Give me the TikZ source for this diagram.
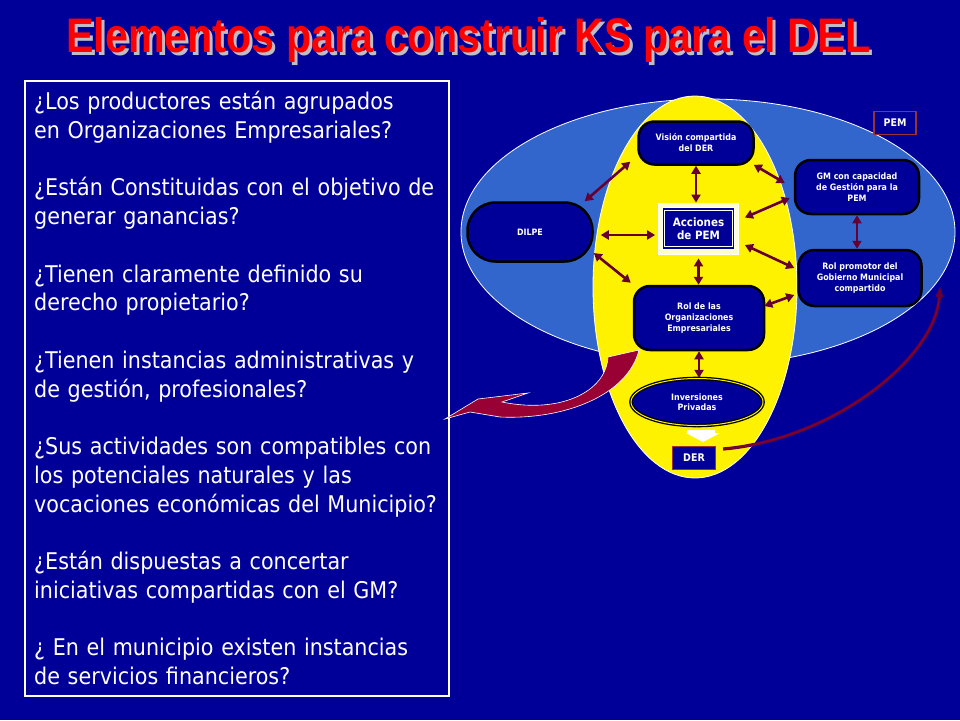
\documentclass[tikz,border=0pt]{standalone}
\usepackage{fontspec}
\setmainfont{DejaVu Sans Condensed}
\newfontfamily\titlefont{Liberation Sans}
\usepackage{tikz}
\usetikzlibrary{arrows.meta}
\usetikzlibrary{positioning}
\usetikzlibrary{shapes.geometric}

\definecolor{navy}{HTML}{000099}
\definecolor{skyblue}{HTML}{3366CC}
\definecolor{wine}{HTML}{660033}
\definecolor{crimson}{HTML}{990033}
\definecolor{brick}{HTML}{993333}
\definecolor{cream}{HTML}{FFFFCC}
\definecolor{shade}{HTML}{BDBDC8}

\newcommand{\headline}{Elementos para construir KS para el DEL}

\tikzset{
	box/.style={rectangle, rounded corners=16pt, fill=navy, draw=black, line width=2.5pt,
		text=white, align=center, inner sep=2pt, font=\bfseries\fontsize{8.8}{11}\selectfont},
	link/.style={wine, line width=2.6pt, {Triangle[length=8pt,width=9pt]}-{Triangle[length=8pt,width=9pt]}},
	tag/.style={rectangle, fill=navy, draw=brick, line width=1.2pt, text=white,
		font=\bfseries\fontsize{10.5}{12}\selectfont},
	frame/.style={rectangle, fill=cream, draw=white, line width=0.8pt, minimum width=80pt, minimum height=51pt},
	acc/.style={rectangle, fill=navy, draw=white, line width=0.9pt, double=navy, double distance=1.6pt,
		minimum width=70pt, minimum height=39pt, text=white, align=center,
		font=\bfseries\fontsize{11.5}{13}\selectfont},
	inv/.style={ellipse, fill=navy, draw=black, line width=1.3pt, double=yellow, double distance=1pt,
		minimum width=132pt, minimum height=47pt, inner sep=0pt, text=white, align=center,
		font=\bfseries\fontsize{8.8}{10.5}\selectfont},
}

\begin{document}
\begin{tikzpicture}[x=1pt,y=-1pt]
	\fill[navy] (0,0) rectangle (960,720);
	\useasboundingbox (0,0) rectangle (960,720);
	
	% title
	\node[anchor=base west, inner sep=0pt, font=\titlefont\bfseries\fontsize{48.5}{50}\selectfont] (title) at (66,52)
		{\scalebox{0.85}[1]{\rlap{\hspace{3.5pt}\raisebox{-3pt}{\textcolor{shade}{\headline}}}\textcolor{red}{\headline}}};
	
	% preguntas
	\draw[white, line width=1.2pt] (25,81) rectangle (449,696);
	\node[anchor=north west, inner sep=0pt, text width=440pt, align=left, text=white,
		font=\fontsize{23}{28.75}\selectfont] (ask) at (34,91) {%
		¿Los productores están agrupados\\
		en Organizaciones Empresariales?\\[28.75pt]
		¿Están Constituidas con el objetivo de\\
		generar ganancias?\\[28.75pt]
		¿Tienen claramente definido su\\
		derecho propietario?\\[28.75pt]
		¿Tienen instancias administrativas y\\
		de gestión, profesionales?\\[28.75pt]
		¿Sus actividades son compatibles con\\
		los potenciales naturales y las\\
		vocaciones económicas del Municipio?\\[28.75pt]
		¿Están dispuestas a concertar\\
		iniciativas compartidas con el GM?\\[28.75pt]
		¿ En el municipio existen instancias\\
		de servicios financieros?};
	
	% PEM y DER
	\fill[skyblue, draw=white, line width=0.8pt] (708,232) ellipse [x radius=247, y radius=133];
	\fill[yellow, draw=white, line width=0.8pt] (695,287) ellipse [x radius=102, y radius=191];
	
	\node[box, minimum width=115pt, minimum height=43pt] (vis) at (696,143) {Visión compartida\\del DER};
	\node[box, minimum width=124pt, minimum height=54pt] (gm) at (857,187) {GM con capacidad\\de Gestión para la\\PEM};
	\node[box, rounded corners=28pt, minimum width=125pt, minimum height=59pt] (dilpe) at (530,232) {DILPE};
	\node[box, minimum width=123pt, minimum height=56pt] (rp) at (860,278) {Rol promotor del\\Gobierno Municipal\\compartido};
	\node[box, minimum width=130pt, minimum height=64pt] (roe) at (699,318) {Rol de las\\Organizaciones\\Empresariales};
	\node[frame] (accf) at (698.5,228.5) {};
	\node[acc] (acc) at (accf) {Acciones\\de PEM};
	\node[inv] (inv) at (697,402) {Inversiones\\Privadas};
	\node[tag, minimum width=43pt, minimum height=23pt] (der) at (694,458) {DER};
	\node[tag, minimum width=42pt, minimum height=23pt] (pem) at (895,123) {PEM};
	
	% flecha blanca
	\fill[white] (687,430) -- (715,430) -- (715,433) -- (720,433) -- (703,442) -- (686,433) -- (687,433) -- cycle;
	
	\draw[link] ([shift={(-7,-4)}]vis.south west) -- ([shift={(-9,0)}]dilpe.north east);
	\draw[link] (vis.south) -- (vis.south |- accf.north);
	\draw[link] ([shift={(-1,-1)}]vis.south east) -- ([shift={(-9,-4)}]gm.west);
	\draw[link] ([shift={(6,-11)}]accf.east) -- ([shift={(-4,11)}]gm.west);
	\draw[link] ([shift={(7,3)}]dilpe.east) -- ([shift={(-3,6.5)}]accf.west);
	\draw[link] ([shift={(0,21)}]dilpe.east) -- ([shift={(-2,-2)}]roe.north west);
	\draw[link] ([shift={(0,4)}]accf.south) -- (accf.south |- roe.north);
	\draw[link] ([shift={(6,16.5)}]accf.east) -- ([shift={(-3,-10)}]rp.west);
	\draw[link] (gm.south) -- (gm.south |- rp.north);
	\draw[link] ([shift={(-1,-12)}]roe.east) -- ([shift={(-3,17)}]rp.west);
	\draw[link] (roe.south) -- (roe.south |- inv.north);
	
	% flecha hacia las preguntas
	\filldraw[fill=crimson, draw=white, line width=0.6pt] (639,350) .. controls (628,395) and (565,420) .. (500,417)
		-- (470,412) -- (445,419) -- (478,399) -- (528,393) -- (502,402)
		.. controls (560,414) and (606,392) .. (608,357) -- cycle;
	
	% retorno del DER
	\coordinate (rise) at (940,287);
	\draw[wine, line width=0.9pt, double=crimson!50!wine, double distance=1.4pt, -{Triangle[length=10pt,width=8pt]}]
		([shift={(7,-9)}]der.east) .. controls (830,440) and (935,360) .. (rise);
\end{tikzpicture}
\end{document}
